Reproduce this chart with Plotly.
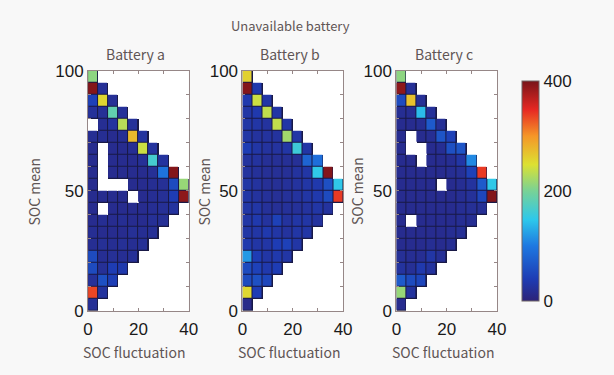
import plotly.graph_objects as go

W, H = 614, 375
N = None

soc_fluct = [2, 6, 10, 14, 18, 22, 26, 30, 34, 38]
soc_mean = [97.5, 92.5, 87.5, 82.5, 77.5, 72.5, 67.5, 62.5, 57.5, 52.5,
            47.5, 42.5, 37.5, 32.5, 27.5, 22.5, 17.5, 12.5, 7.5, 2.5]

battery_a = [
    [210],
    [395, 20],
    [45, 255, 20],
    [22, 20, 185, 22],
    [N, 18, 25, 230, 22],
    [18, 18, 15, 18, 275, 25],
    [15, N, 15, 15, 18, 240, 25],
    [15, N, 15, 15, 15, 20, 165, 25],
    [15, N, 15, 15, 15, 15, 20, 95, 395],
    [15, N, N, N, 15, 15, 18, 20, 55, 215],
    [15, 15, 15, 15, N, 15, 18, 20, 40, 390],
    [15, N, 15, 15, 15, 15, 18, 20, 25],
    [15, 18, 15, 18, 15, 15, 20, 20],
    [18, 15, 15, 15, 20, 18, 20],
    [18, 20, 18, 20, 18, 20],
    [55, 18, 20, 18, 20],
    [55, 20, 40, 35],
    [22, 60, 42],
    [335, 25],
    [20],
]
battery_b = [
    [260],
    [395, 35],
    [35, 240, 30],
    [30, 35, 235, 30],
    [30, 30, 25, 235, 30],
    [30, 25, 25, 25, 220, 30],
    [40, 30, 25, 25, 30, 160, 30],
    [25, 25, 20, 20, 20, 20, 80, 90],
    [25, 22, 20, 20, 20, 25, 30, 150, 395],
    [30, 25, 20, 20, 22, 25, 30, 35, 60, 150],
    [30, 25, 22, 20, 22, 25, 30, 35, 55, 340],
    [30, 30, 22, 20, 22, 22, 25, 30, 25],
    [30, 35, 25, 45, 25, 30, 30, 25],
    [30, 30, 35, 30, 25, 30, 30],
    [35, 30, 30, 40, 45, 30],
    [120, 40, 30, 35, 30],
    [55, 45, 35, 40],
    [55, 60, 50],
    [255, 40],
    [12],
]
battery_c = [
    [210],
    [390, 20],
    [55, 270, 20],
    [18, 18, 140, 22],
    [15, 15, 18, 70, 20],
    [15, N, 15, 18, 65, 45],
    [15, N, N, 15, 18, 60, 65],
    [15, 15, N, 15, 15, 18, 30, 110],
    [15, 15, 15, 15, 15, 18, 20, 45, 340],
    [15, 15, 15, 15, N, 15, 18, 25, 70, 150],
    [15, 15, 15, 15, 15, 15, 18, 22, 50, 395],
    [15, 15, 15, 15, 15, 15, 18, 20, 20],
    [15, N, 15, 15, 15, 15, 18, 18],
    [15, 15, 15, 15, 15, 18, 20],
    [15, 15, 15, 18, 15, 18],
    [20, 18, 18, 30, 20],
    [25, 20, 35, 25],
    [70, 55, 50],
    [215, 25],
    [15],
]

panel_titles = ["Battery a", "Battery b", "Battery c"]
cbar_ticks = [0, 200, 400]

jet_like = [
    [0.0, "rgb(45,35,120)"],
    [0.1, "rgb(30,60,180)"],
    [0.25, "rgb(30,120,225)"],
    [0.37, "rgb(45,200,235)"],
    [0.5, "rgb(120,210,150)"],
    [0.62, "rgb(220,225,50)"],
    [0.75, "rgb(245,150,40)"],
    [0.87, "rgb(230,40,35)"],
    [1.0, "rgb(120,20,25)"],
]


def pad(rows):
    return [r + [None] * (len(soc_fluct) - len(r)) for r in rows]


def mask(rows):
    return [[1 if v is not None else None for v in r] for r in rows]


panels_px = [(85, 188), (243, 346), (400.5, 503.5)]
top_px, bot_px = 65, 318
ydom = [1 - bot_px / H, 1 - top_px / H]

fig = go.Figure()
datasets = [battery_a, battery_b, battery_c]
axis_col = "rgb(150,135,135)"
tickfont = dict(family="Liberation Sans, Arial", size=17, color="#1a1a1a")
gray_txt = "rgb(95,85,85)"
lab_font = "Noto Sans CJK JP, Noto Sans, sans-serif"


def label(px, py, text, size=14, angle=0):
    fig.add_annotation(x=px / W, y=1 - py / H, xref="paper", yref="paper",
                       xanchor="center", yanchor="middle", borderpad=0,
                       text=text, showarrow=False, textangle=angle,
                       font=dict(family=lab_font, size=size, color=gray_txt))


for i, data in enumerate(datasets):
    xa = "x" if i == 0 else f"x{i+1}"
    ya = "y" if i == 0 else f"y{i+1}"
    z = pad(data)
    fig.add_trace(go.Heatmap(
        x=soc_fluct, y=soc_mean, z=mask(z),
        colorscale=[[0, "rgb(25,25,70)"], [1, "rgb(25,25,70)"]],
        showscale=False, hoverinfo="skip", xaxis=xa, yaxis=ya))
    fig.add_trace(go.Heatmap(
        x=soc_fluct, y=soc_mean, z=z, zmin=0, zmax=400,
        colorscale=jet_like, xgap=1, ygap=1,
        showscale=(i == 2), xaxis=xa, yaxis=ya,
        colorbar=dict(
            x=519 / W, xanchor="left", y=sum(ydom) / 2, yanchor="middle",
            len=(bot_px - top_px) / H, lenmode="fraction",
            thickness=17, outlinewidth=1, outlinecolor="rgb(110,100,100)",
            tickvals=cbar_ticks, ticks="", tickfont=tickfont,
        ),
    ))
    x0, x1 = panels_px[i]
    xkey = "xaxis" if i == 0 else f"xaxis{i+1}"
    ykey = "yaxis" if i == 0 else f"yaxis{i+1}"
    fig.layout[xkey] = dict(
        domain=[x0 / W, x1 / W], range=[0, 40], anchor=ya,
        tickvals=[0, 10, 20, 30, 40], ticktext=["0", "", "20", "", "40"],
        ticks="inside", ticklen=3, tickcolor=axis_col,
        showline=True, linecolor=axis_col, mirror="ticks", linewidth=1,
        showgrid=False, zeroline=False, tickfont=tickfont,
        ticklabelstandoff=3,
    )
    fig.layout[ykey] = dict(
        domain=ydom, range=[0, 100], anchor=xa,
        tickvals=list(range(0, 101, 10)),
        ticktext=["0", "", "", "", "", "50", "", "", "", "", "100"],
        ticks="inside", ticklen=3, tickcolor=axis_col,
        showline=True, linecolor=axis_col, mirror="ticks", linewidth=1,
        showgrid=False, zeroline=False, tickfont=tickfont,
    )
    cx = (x0 + x1) / 2
    label(cx - 3, 47, panel_titles[i])
    label(cx - 4, 361, "SOC fluctuation")

for px in [30, 204, 361]:
    label(px, 192, "SOC mean", angle=-90)

label(292, 17, "Unavailable battery", size=13)

fig.update_layout(
    width=W, height=H, margin=dict(l=0, r=0, t=0, b=0),
    paper_bgcolor="rgb(248,248,248)", plot_bgcolor="white",
    showlegend=False,
)

fig.write_html("out.html")
